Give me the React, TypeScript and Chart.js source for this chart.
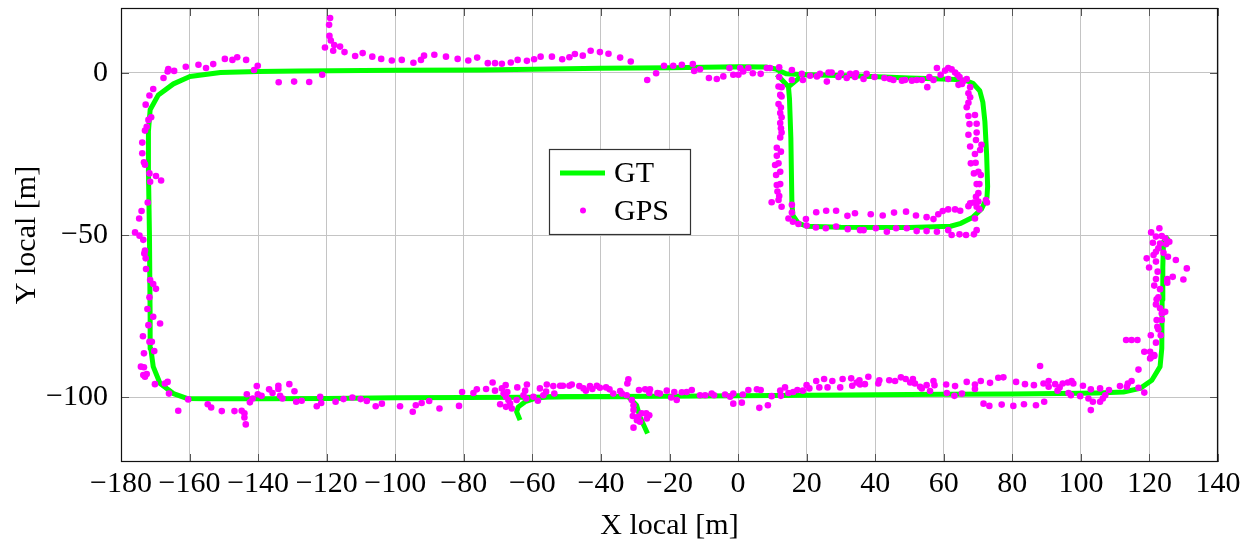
import React, { useEffect, useRef } from 'react';
import { Chart, registerables } from 'chart.js';

Chart.register(...registerables);

// ---- axis ticks ----
const xTicks = [-180, -160, -140, -120, -100, -80, -60, -40, -20, 0, 20, 40, 60, 80, 100, 120, 140];
const yTicks = [-100, -50, 0];
const xRange = [-180, 140];
const yRange = [-120, 20];

// ---- ground truth trajectory, drawn as separate pieces ----
const gtLoop: number[][] = [
  [-32, -99.9], [-50, -99.9], [-60, -100.0], [-80, -100.1], [-100, -100.2], [-120, -100.4],
  [-140, -100.5], [-155, -100.5], [-160.8, -100.4], [-164.7, -98.9], [-168.6, -95.8],
  [-170.6, -90.6], [-171.3, -85], [-171.5, -75], [-171.7, -50], [-172, -30], [-172, -18],
  [-171.5, -11.4], [-169.1, -6.8], [-164.7, -3.4], [-159.9, -1.1], [-151, 0.1], [-140, 0.4],
  [-128, 0.6], [-100, 0.8], [-75, 0.9], [-40, 1.4], [-20, 1.6], [0, 1.9], [8, 1.8], [11, 1.2],
  [14, -0.3], [20, -0.6], [35, -1.0], [50, -1.6], [62, -2.0], [66, -2.2], [68.5, -3.2],
  [70.5, -5.5], [71.4, -9], [72, -15], [72.5, -25], [72.8, -35], [72.6, -38.5], [71, -42],
  [68.5, -44.5], [65, -46.4], [62, -47.3], [50, -47.7], [30, -47.6], [20, -47.3], [17.5, -46.3],
  [16, -44], [15.7, -40], [15.4, -20], [15, -8], [14.7, -4.3], [12.5, -1.8], [11.3, -0.5],
];
const gtSpur: number[][] = [[14.7, -4.3], [18.1, -1.3]];
const gtSouthEast: number[][] = [
  [-63.6, -107.1], [-64.6, -104.5], [-64.1, -103], [-62.1, -101.4], [-59.2, -100.4], [-55.8, -99.9],
  [-40, -99.8], [-20, -99.7], [0, -99.6], [20, -99.4], [40, -99.3], [60, -99.1], [80, -99.0],
  [100, -98.8], [104.6, -98.7], [112.4, -98.4], [117.3, -97.3], [120.7, -94.8], [123.1, -90.6],
  [123.6, -85], [123.7, -70], [123.9, -60], [124.1, -52.1], [125.6, -50.5],
];
const gtSouthBranch: number[][] = [[-32, -99.9], [-29.6, -102.5], [-28.6, -106.1], [-26.4, -111.2]];

// ---- GPS fixes ----
const gpsWestSide: number[][] = [
  [-166.2, 1.2], [-166.4, 0.4], [-164.5, 0.6], [-161.1, 1.9], [-157.4, 2.5], [-155.2, 1.5], [-153.1, 2.7],
  [-149.7, 4.3], [-147.5, 4.0], [-146.1, 4.8], [-143.5, 4.0], [-141.2, 0.9], [-140.1, 2.2],
  [-167.6, -1.6], [-170.6, -5.0], [-171.7, -7.0], [-172.8, -9.8], [-171.2, -13.7], [-172.0, -14.5],
  [-172.5, -16.6], [-173.0, -17.8], [-173.8, -21.5], [-173.8, -24.8], [-173.3, -27.6], [-173.0, -28.3],
  [-171.7, -31.0], [-169.8, -31.8], [-168.3, -33.2], [-171.5, -33.6], [-172.2, -40.0], [-174.0, -42.6],
  [-174.7, -44.9], [-175.9, -49.2], [-174.6, -50.2], [-173.5, -51.5], [-173.0, -54.8], [-173.2, -55.7],
  [-172.8, -57.2], [-172.7, -60.5], [-171.5, -63.9], [-170.6, -65.1], [-169.8, -66.6], [-171.7, -69.2],
  [-172.3, -72.8], [-170.6, -75.2], [-168.6, -77.3], [-172.0, -77.8], [-173.6, -81.2], [-171.7, -82.9],
  [-171.0, -82.9], [-170.3, -85.8], [-173.3, -86.5], [-174.2, -90.6], [-173.3, -90.8], [-173.5, -93.2],
  [-172.5, -92.9], [-173.0, -93.7], [-170.1, -96.0], [-167.2, -95.8], [-166.4, -95.3], [-166.0, -98.9],
  [-163.3, -104.2],
];
const gpsNorthRoad: number[][] = [
  [-134.0, -2.9], [-129.5, -2.7], [-125.1, -2.8], [-121.3, -0.6], [-120.5, 7.8], [-119.0, 16.9],
  [-119.3, 14.8], [-119.2, 11.4], [-118.8, 10.0], [-117.8, 8.6], [-118.1, 6.8], [-116.1, 8.1],
  [-114.8, 6.4], [-111.7, 5.2], [-109.5, 6.1], [-106.7, 5.0], [-104.1, 4.3], [-101.0, 3.8], [-98.1, 4.0],
  [-94.7, 3.1], [-92.5, 4.0], [-91.6, 5.3], [-88.6, 5.6], [-85.2, 5.0], [-81.8, 4.3], [-78.7, 3.8],
  [-76.1, 4.7], [-73.0, 3.0], [-70.9, 3.0], [-68.9, 2.8], [-66.3, 3.2], [-64.3, 4.0], [-61.6, 3.7],
  [-59.5, 4.2], [-57.6, 5.0], [-54.3, 5.0], [-51.3, 4.2], [-49.2, 4.8], [-47.6, 5.8], [-45.3, 5.3],
  [-43.0, 6.8], [-40.3, 6.4], [-37.8, 5.9], [-34.4, 4.7], [-31.3, 3.5], [-26.5, -2.2], [-23.9, -0.1],
  [-21.6, 2.2], [-18.9, 2.2], [-16.4, 2.5], [-13.2, 2.7], [-12.8, 0.6], [-11.1, 1.1], [-8.5, -1.6],
  [-6.2, -1.9], [-4.3, -1.1], [-2.5, 1.5], [-1.4, -0.6], [0.1, -0.6], [0.6, 1.5], [1.5, 0.4], [3.0, 1.5],
  [4.3, -0.1], [6.6, -0.3], [8.4, 1.5], [9.3, 1.5], [12.0, 1.7],
];
const gpsBlock: number[][] = [
  [15.7, 0.9], [18.6, -0.3], [21.0, -0.9], [23.0, -1.1], [23.9, -0.3], [25.9, -2.7], [26.4, 0.1],
  [27.3, 0.1], [29.3, -1.3], [30.0, -0.1], [31.7, -1.6], [32.7, -0.3], [34.1, -1.3], [34.4, -0.1],
  [36.6, -1.9], [37.5, -0.3], [39.8, -1.3], [42.7, -1.6], [44.3, -1.9], [45.3, -2.2], [47.8, -2.4],
  [48.7, -2.2], [50.7, -2.4], [52.1, -2.2], [53.6, -2.2], [55.2, -4.4], [55.8, -1.3], [57.0, -2.2],
  [58.0, 1.5], [59.1, -0.6], [60.4, 0.7], [61.3, 1.5], [62.3, 1.1], [61.3, -1.9], [63.3, 0.1],
  [64.0, -0.6], [64.6, -1.3], [64.3, -3.7], [65.6, -2.7], [66.7, -1.9], [65.3, -3.4], [15.7, -2.2],
  [18.9, -2.2],
  [67.7, -4.4], [67.2, -6.3], [67.7, -7.5], [67.2, -9.2], [66.7, -10.6], [67.2, -13.3], [69.1, -13.0],
  [67.5, -15.8], [69.6, -15.7], [69.6, -18.4], [67.2, -19.1], [69.4, -20.7], [67.7, -22.7], [71.0, -22.2],
  [70.6, -23.8], [69.1, -25.0], [67.9, -27.9], [69.3, -27.7], [68.8, -31.0], [70.1, -30.5], [70.8, -31.5],
  [69.6, -34.3], [70.4, -34.3], [70.1, -37.1], [69.4, -38.2], [72.3, -39.2], [72.6, -40.0], [67.7, -40.2],
  [68.8, -40.0], [70.1, -39.7], [69.6, -41.3], [70.4, -42.1], [67.2, -41.1], [69.1, -44.9], [69.6, -48.5],
  [68.8, -49.8],
  [66.5, -50.0], [64.6, -49.8], [62.3, -50.0], [61.3, -48.5], [63.3, -42.1], [61.3, -42.1], [64.8, -42.5],
  [59.7, -42.6], [58.4, -43.6], [57.0, -45.1], [55.0, -44.5], [51.9, -44.0], [49.0, -42.8], [45.5, -43.1],
  [42.2, -44.0], [38.7, -43.6], [34.1, -43.3], [31.9, -44.1], [28.6, -42.5], [25.7, -42.5], [22.8, -43.0],
  [19.8, -45.1], [58.0, -49.0], [55.0, -48.8], [52.1, -48.8], [49.2, -47.9], [46.1, -47.9], [43.4, -49.0],
  [40.2, -47.9], [36.6, -48.5], [35.6, -48.5], [32.0, -48.2], [28.6, -47.4], [25.6, -47.9], [22.7, -47.7],
  [20.0, -47.1], [17.6, -46.6], [16.0, -45.9], [14.7, -44.9], [15.7, -43.1], [15.7, -40.7],
  [12.7, -41.3], [9.8, -39.9], [11.8, -39.2], [12.0, -38.0], [11.5, -36.6], [12.3, -34.3], [11.3, -34.6],
  [11.1, -31.5], [12.3, -30.5], [10.8, -28.4], [11.8, -27.9], [11.3, -25.6], [12.5, -24.3], [11.3, -23.1],
  [12.3, -19.9], [12.7, -18.4], [12.5, -17.1], [12.3, -15.5], [12.7, -13.7], [12.3, -12.4], [12.5, -10.7],
  [11.8, -9.6], [12.7, -7.3], [12.3, -6.8], [12.7, -4.4], [11.8, -4.2], [12.0, -1.3],
];
const gpsSouthRoad: number[][] = [
  [-160.4, -100.7], [-154.7, -102.2], [-153.7, -103.2], [-150.6, -104.3], [-146.9, -104.3], [-144.8, -104.2],
  [-144.0, -105.0], [-144.0, -106.3], [-143.6, -108.4], [-143.3, -99.1], [-142.4, -101.6], [-141.6, -100.4],
  [-140.4, -96.6], [-140.1, -99.1], [-139.0, -99.6], [-136.8, -97.6], [-135.8, -98.7], [-134.1, -96.5],
  [-134.1, -97.5], [-133.6, -99.6], [-132.9, -100.4], [-130.9, -96.0], [-129.4, -98.2], [-128.9, -101.4],
  [-127.3, -101.1], [-122.9, -102.8], [-121.9, -99.9], [-121.6, -101.8], [-117.4, -101.4], [-115.1, -100.6],
  [-112.5, -100.1], [-110.1, -100.6], [-108.3, -101.2], [-105.7, -102.8], [-103.9, -102.0], [-98.6, -102.8],
  [-94.9, -104.5], [-94.0, -102.5], [-92.3, -101.8], [-90.1, -101.2], [-87.1, -103.5], [-81.4, -102.7],
  [-80.5, -98.4], [-77.2, -98.7], [-76.2, -97.6], [-73.5, -97.5], [-71.6, -95.5], [-70.9, -98.0],
  [-69.4, -102.2], [-68.9, -97.3], [-68.4, -98.9], [-67.8, -96.3], [-67.7, -99.9], [-67.3, -98.4],
  [-67.0, -100.9], [-66.5, -102.0], [-67.7, -103.0], [-66.0, -103.5], [-64.6, -100.9], [-64.4, -97.0],
  [-62.6, -99.4], [-62.1, -98.0], [-61.6, -96.1], [-61.8, -100.4], [-59.7, -99.9], [-58.4, -101.1],
  [-57.8, -97.3], [-56.8, -99.4], [-55.8, -96.1], [-56.0, -98.3], [-53.9, -96.6], [-53.6, -98.9],
  [-51.9, -96.5], [-51.1, -96.5], [-49.2, -96.5], [-48.5, -96.1], [-46.3, -96.6], [-45.1, -97.3],
  [-44.4, -98.0], [-43.2, -96.6], [-42.5, -97.5], [-41.2, -96.5], [-40.3, -97.1], [-38.5, -97.0],
  [-37.5, -97.6], [-36.4, -98.9], [-34.4, -98.1], [-33.9, -98.9], [-32.5, -99.4], [-32.3, -95.8],
  [-32.0, -94.5], [-31.0, -100.9], [-30.5, -102.5], [-30.5, -104.0], [-30.7, -105.8], [-30.5, -109.4],
  [-29.5, -107.1], [-29.1, -106.1], [-28.6, -107.6], [-28.1, -105.0], [-26.8, -105.0], [-25.9, -105.6],
  [-26.6, -106.6], [-28.9, -97.8], [-27.1, -97.6], [-25.7, -97.6], [-25.9, -98.7], [-23.5, -98.7],
  [-22.8, -98.9], [-20.8, -98.0], [-19.5, -100.1], [-18.6, -98.4], [-17.9, -100.9], [-16.4, -98.5],
  [-15.0, -98.4], [-13.5, -97.8], [-11.1, -99.4], [-9.6, -99.4], [-7.7, -98.9], [-7.0, -99.4],
  [-3.8, -99.2], [-2.3, -99.9], [-1.4, -102.0], [-1.4, -98.9], [1.1, -101.7], [1.4, -99.2], [3.0, -97.8],
  [5.5, -97.6], [6.6, -97.8], [6.2, -103.3], [8.7, -102.5], [9.8, -99.7], [12.3, -98.0], [12.5, -99.6],
  [13.7, -97.0], [14.7, -98.7], [16.1, -98.4], [17.3, -97.8], [18.9, -98.0], [20.0, -96.3], [20.8, -97.3],
  [22.8, -95.0], [23.7, -97.0], [25.1, -94.4], [26.1, -97.0], [27.5, -95.0], [29.8, -97.0], [30.5, -94.4],
  [33.0, -94.2], [33.3, -96.5], [34.6, -95.5], [35.4, -94.8], [35.6, -96.1], [37.0, -96.0], [38.0, -93.7],
  [40.9, -95.8], [41.2, -94.8], [44.1, -94.8], [45.8, -95.0], [47.5, -93.9], [48.9, -94.4], [50.2, -95.5],
  [51.0, -94.4], [51.6, -95.8], [53.1, -96.8], [53.6, -97.3], [55.0, -96.3], [56.0, -98.1], [57.0, -95.0],
  [57.3, -96.3], [60.7, -96.1], [60.9, -98.7], [63.3, -96.6], [63.1, -99.6], [65.3, -98.9], [66.7, -95.3],
  [69.1, -96.1], [69.1, -97.5], [70.8, -95.0], [71.6, -102.0], [73.3, -102.7], [73.5, -95.6], [75.9, -94.0],
  [77.4, -93.9], [76.9, -102.3], [80.3, -102.7], [81.1, -95.3], [83.4, -102.2], [83.7, -96.0], [86.3, -96.3],
  [86.9, -102.5], [88.1, -90.4], [89.1, -95.8], [89.3, -101.4], [90.6, -95.0], [90.6, -96.8], [92.5, -96.0],
  [93.2, -98.0], [93.8, -97.0], [94.7, -95.8], [96.2, -95.5], [96.4, -98.7], [97.1, -99.4], [97.3, -95.0],
  [97.8, -95.8], [99.8, -99.7], [100.6, -96.5], [102.2, -100.4], [102.9, -97.6], [103.5, -101.4],
  [102.9, -104.0], [105.6, -97.3], [105.6, -101.4], [106.4, -100.4], [107.1, -99.4], [108.2, -97.8],
];
const gpsEastSpur: number[][] = [
  [111.4, -96.6], [113.4, -96.8], [113.7, -95.8], [114.8, -95.0], [116.8, -91.5], [116.8, -97.1],
  [118.5, -98.6], [120.4, -87.8], [121.4, -87.0], [122.9, -47.9], [120.5, -49.2], [121.9, -50.5],
  [123.6, -50.3], [124.6, -51.0], [125.8, -52.1], [121.0, -52.4], [123.1, -52.6], [124.9, -52.8],
  [122.6, -54.1], [121.9, -55.2], [121.2, -56.2], [124.1, -55.5], [119.2, -57.2], [125.4, -56.7],
  [121.9, -58.2], [127.7, -57.7], [119.9, -60.0], [122.4, -61.3], [130.9, -60.3], [121.9, -63.6],
  [126.8, -62.9], [125.2, -63.6], [129.9, -63.7], [125.2, -64.7], [121.4, -65.6], [123.1, -66.7],
  [122.6, -69.2], [122.1, -69.8], [121.9, -71.4], [123.1, -72.6], [124.6, -73.7], [123.6, -74.2],
  [122.1, -76.2], [123.6, -76.2], [122.3, -78.3], [122.6, -79.1], [123.3, -80.9], [120.4, -80.9],
  [113.2, -82.4], [114.8, -82.4], [116.5, -82.4], [121.9, -83.2], [118.5, -86.0], [120.2, -86.0],
  [121.4, -87.3], [120.2, -88.1],
];

const GT_COLOR = '#00ff00';
const GPS_COLOR = '#ff00ff';
const FONT = "'Liberation Serif', 'Times New Roman', serif";

const toXY = (pts: number[][]) => pts.map(([x, y]) => ({ x, y }));
const fmt = (v: number) => (v < 0 ? '\u2212' + Math.abs(v) : String(v));

const gtDataset = (pts: number[][]) => ({
  label: 'GT',
  data: toXY(pts),
  showLine: true,
  borderColor: GT_COLOR,
  backgroundColor: GT_COLOR,
  borderWidth: 5,
  pointRadius: 0,
  borderJoinStyle: 'round' as const,
  fill: false,
  order: 1,
});

// Frame, inward tick marks and the boxed legend
const framePlugin = {
  id: 'frameAndLegend',
  afterDraw(chart: any) {
    const { ctx, chartArea: a, scales } = chart;
    ctx.save();
    ctx.strokeStyle = '#555';
    ctx.lineWidth = 1;
    ctx.beginPath();
    for (const v of xTicks) {
      const px = Math.round(scales.x.getPixelForValue(v)) + 0.5;
      ctx.moveTo(px, a.top);
      ctx.lineTo(px, a.top + 8);
      ctx.moveTo(px, a.bottom);
      ctx.lineTo(px, a.bottom - 8);
    }
    for (const v of yTicks) {
      const py = Math.round(scales.y.getPixelForValue(v)) + 0.5;
      ctx.moveTo(a.left, py);
      ctx.lineTo(a.left + 8, py);
      ctx.moveTo(a.right, py);
      ctx.lineTo(a.right - 8, py);
    }
    ctx.stroke();

    ctx.strokeStyle = '#111';
    ctx.lineWidth = 1.2;
    ctx.strokeRect(a.left + 0.5, a.top + 0.5, a.right - a.left - 1, a.bottom - a.top - 1);

    // legend box
    const bx = 549.5, by = 149.5, bw = 141, bh = 85;
    ctx.fillStyle = '#fff';
    ctx.fillRect(bx, by, bw, bh);
    ctx.strokeStyle = '#333';
    ctx.lineWidth = 1.2;
    ctx.strokeRect(bx, by, bw, bh);

    const ds = chart.data.datasets;
    const gt = ds.find((d: any) => d.label === 'GT');
    const gps = ds.find((d: any) => d.label === 'GPS');
    ctx.font = `30px ${FONT}`;
    ctx.textBaseline = 'middle';
    ctx.textAlign = 'left';

    ctx.strokeStyle = gt.borderColor;
    ctx.lineWidth = 5;
    ctx.beginPath();
    ctx.moveTo(560, 173);
    ctx.lineTo(605, 173);
    ctx.stroke();
    ctx.fillStyle = '#000';
    ctx.fillText(gt.label, 614, 174);

    ctx.fillStyle = gps.backgroundColor;
    ctx.beginPath();
    ctx.arc(583, 210.5, 3, 0, Math.PI * 2);
    ctx.fill();
    ctx.fillStyle = '#000';
    ctx.fillText(gps.label, 614, 212);
    ctx.restore();
  },
};

export default function App() {
  const ref = useRef<HTMLCanvasElement>(null);

  useEffect(() => {
    if (!ref.current) return;
    const gpsAll = [...gpsWestSide, ...gpsNorthRoad, ...gpsBlock, ...gpsSouthRoad, ...gpsEastSpur];
    const chart = new Chart(ref.current, {
      type: 'scatter',
      data: {
        datasets: [
          {
            label: 'GPS',
            data: toXY(gpsAll),
            pointRadius: 3.3,
            pointBorderWidth: 0,
            backgroundColor: GPS_COLOR,
            borderColor: GPS_COLOR,
            order: 0,
          },
          gtDataset(gtLoop),
          gtDataset(gtSouthEast),
          gtDataset(gtSouthBranch),
          gtDataset(gtSpur),
        ] as any,
      },
      options: {
        responsive: false,
        animation: false,
        events: [],
        layout: { padding: { left: 0, right: 33, top: 8, bottom: 0 } },
        plugins: { legend: { display: false }, tooltip: { enabled: false } },
        scales: {
          x: {
            type: 'linear',
            min: xRange[0],
            max: xRange[1],
            afterBuildTicks: (s: any) => {
              s.ticks = xTicks.map((value) => ({ value }));
            },
            afterFit: (s: any) => {
              s.height = 81;
              s.paddingLeft = 0;
              s.paddingRight = 0;
            },
            grid: { color: '#c4c4c4', lineWidth: 1, drawTicks: false },
            border: { display: false },
            ticks: {
              autoSkip: false,
              maxRotation: 0,
              minRotation: 0,
              padding: 4,
              color: '#000',
              font: { family: FONT, size: 30, lineHeight: 1.2 },
              callback: (v: any) => fmt(Number(v)),
            },
            title: {
              display: true,
              text: 'X local [m]',
              color: '#000',
              font: { family: FONT, size: 30, lineHeight: 1 },
              padding: { top: 0, bottom: 2 },
            },
          },
          y: {
            type: 'linear',
            min: yRange[0],
            max: yRange[1],
            afterBuildTicks: (s: any) => {
              s.ticks = yTicks.map((value) => ({ value }));
            },
            afterFit: (s: any) => {
              s.width = 121;
              s.paddingTop = 0;
              s.paddingBottom = 0;
            },
            grid: { color: '#c4c4c4', lineWidth: 1, drawTicks: false },
            border: { display: false },
            ticks: {
              autoSkip: false,
              padding: 13,
              color: '#000',
              font: { family: FONT, size: 30, lineHeight: 1.2 },
              callback: (v: any) => fmt(Number(v)),
            },
            title: {
              display: true,
              text: 'Y local [m]',
              color: '#000',
              font: { family: FONT, size: 30, lineHeight: 1 },
              padding: { top: 12, bottom: 0 },
            },
          },
        },
      },
      plugins: [framePlugin],
    });
    return () => chart.destroy();
  }, []);

  return (
    <div style={{ position: 'absolute', left: 0, top: 0, width: 1251, height: 543, background: '#fff' }}>
      <canvas ref={ref} width={1251} height={543} style={{ display: 'block', width: 1251, height: 543 }} />
    </div>
  );
}
